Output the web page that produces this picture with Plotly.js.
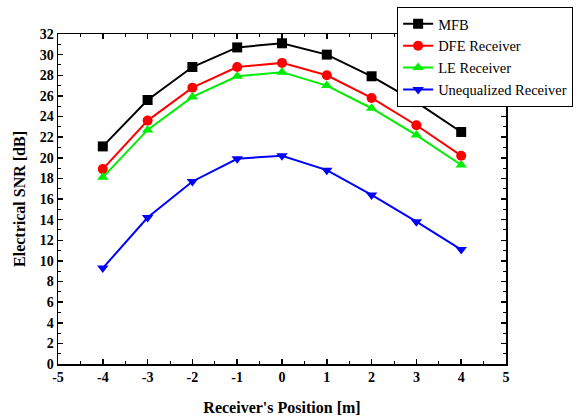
<!DOCTYPE html>
<html><head><meta charset="utf-8">
<script src="https://cdn.plot.ly/plotly-3.0.1.min.js"></script>
<style>html,body{margin:0;padding:0;background:#fff}#c{width:586px;height:419px}</style>
</head><body><div id="c"></div>
<script>
const positions = [-4,-3,-2,-1,0,1,2,3,4];
const mfb = [21.1,25.6,28.8,30.7,31.1,30.0,27.9,25.4,22.5];
const dfe = [18.9,23.6,26.8,28.8,29.2,28.0,25.8,23.15,20.2];
const le = [18.1,22.7,25.9,27.9,28.3,27.0,24.8,22.2,19.3];
const uneq = [9.3,14.2,17.7,19.9,20.2,18.8,16.4,13.8,11.1];
const names = ["MFB","DFE Receiver","LE Receiver","Unequalized Receiver"];
const xTickVals = [-5,-4,-3,-2,-1,0,1,2,3,4,5];
const xTickText = ["-5","-4","-3","-2","-1","0","1","2","3","4","5"];

const series = [mfb, dfe, le, uneq];
const colors = ["#000000","#ff0000","#00ee00","#0000ff"];
const symbols = ["square","circle","triangle-up","triangle-down"];
const traces = series.map((s,i)=>({
  x: positions, y: s, name: names[i], type:'scatter', mode:'lines+markers',
  line:{color:colors[i], width:2},
  marker:{color:colors[i], symbol:symbols[i], size:10}
}));
const serif = 'Liberation Serif, Times New Roman, serif';
const tickFont = {family:serif, size:14, color:'#000', weight:700};
const layout = {
  width:586, height:419,
  margin:{l:58, r:80, t:34, b:54.5, autoexpand:false},
  paper_bgcolor:'#fff', plot_bgcolor:'#fff',
  font:{family:serif, color:'#000'},
  showlegend:true,
  legend:{x:0.757, y:1.082, xanchor:'left', yanchor:'top', bgcolor:'#fff',
    bordercolor:'#000', borderwidth:1, font:{size:14.5, family:serif},
    tracegroupgap:0},
  xaxis:{range:[-5,5], tickvals:xTickVals, ticktext:xTickText, showgrid:false, zeroline:false,
    showline:true, linecolor:'#000', linewidth:1.5, mirror:'ticks',
    ticks:'inside', ticklen:5, tickcolor:'#000', tickwidth:1.5,
    minor:{ticks:'inside', dtick:0.5, tick0:-5, ticklen:3, tickcolor:'#000', tickwidth:1},
    tickfont:tickFont,
    title:{text:"<b>Receiver's Position [m]</b>", font:{size:16, family:serif}, standoff:17}},
  yaxis:{range:[0,32], dtick:2, tick0:0, showgrid:false, zeroline:false,
    showline:true, linecolor:'#000', linewidth:1.5, mirror:'ticks',
    ticks:'inside', ticklen:5, tickcolor:'#000', tickwidth:1.5,
    minor:{ticks:'inside', dtick:1, ticklen:3, tickcolor:'#000', tickwidth:1},
    tickfont:tickFont,
    title:{text:"<b>Electrical SNR [dB]</b>", font:{size:16, family:serif}, standoff:10}}
};
Plotly.newPlot('c', traces, layout, {displayModeBar:false, staticPlot:true});
</script></body></html>
